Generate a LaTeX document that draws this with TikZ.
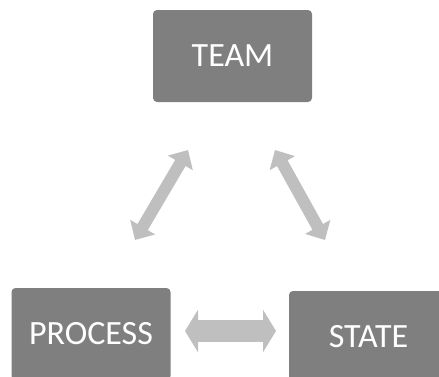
\documentclass[tikz,border=0pt]{standalone}
\usepackage{fontspec}
\setmainfont{Carlito}
\usetikzlibrary{arrows.meta}
\definecolor{boxgray}{HTML}{7F7F7F}
\definecolor{arrgray}{HTML}{BFBFBF}
\tikzset{
  block/.style={fill=boxgray, rounded corners=4pt, minimum width=159pt, minimum height=92pt,
    inner sep=0pt, text=white, font=\fontsize{34}{36}\selectfont},
  diagarrow/.style={draw=arrgray, line width=12pt,
    {Triangle[width=28pt,length=15pt]}-{Triangle[width=28pt,length=15pt]}},
  horzarrow/.style={draw=arrgray, line width=22pt,
    {Triangle[width=42pt,length=13pt]}-{Triangle[width=42pt,length=13pt]}}
}
\begin{document}
\begin{tikzpicture}[x=1pt,y=-1pt]
\useasboundingbox (0,0) rectangle (439,376);
\begin{scope}
\clip (0,0) rectangle (439,376);
\node[block] (team) at (232.5,56) {TEAM};
\node[block] (process) at (91,334) {PROCESS};
\node[block] (state) at (368.5,337) {STATE};
\end{scope}
\coordinate (l1) at (188,150);
\coordinate (l2) at (135,240);
\coordinate (r1) at (275,150);
\coordinate (r2) at (325,240);
\coordinate (b1) at (185,331);
\coordinate (b2) at (276,331);
\draw[diagarrow] (l1) -- (l2);
\draw[diagarrow] (r1) -- (r2);
\draw[horzarrow] (b1) -- (b2);
\end{tikzpicture}
\end{document}
